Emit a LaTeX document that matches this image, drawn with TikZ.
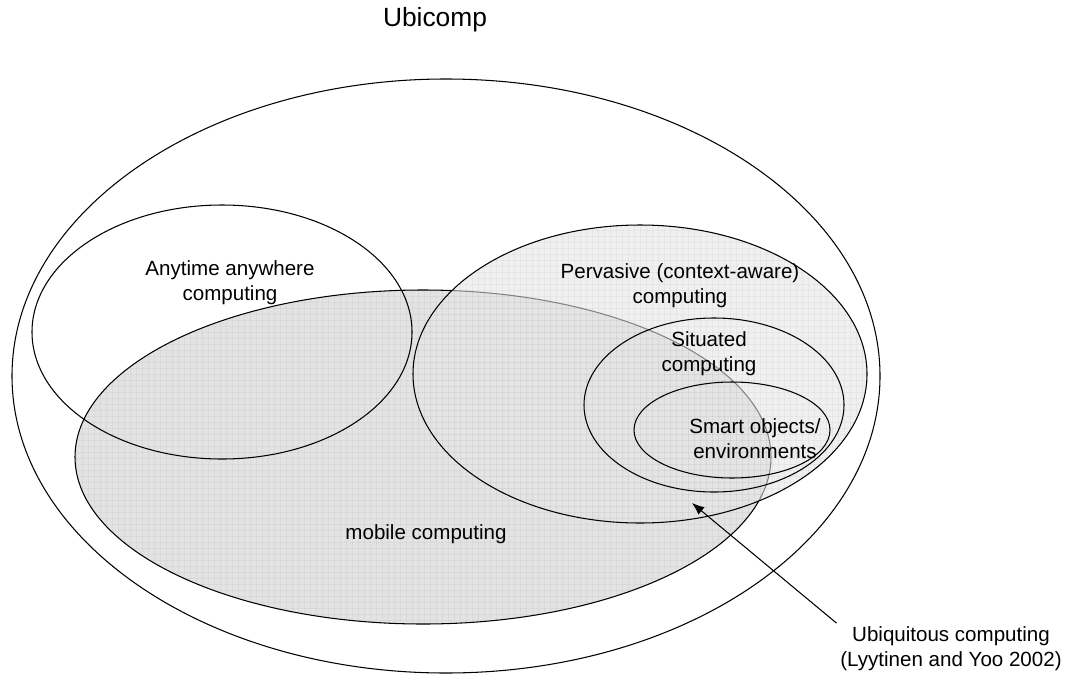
\documentclass[tikz,border=0pt]{standalone}
\usepackage{fontspec}
\setmainfont{Liberation Sans}
\usepackage{tikz}
\usetikzlibrary{arrows.meta}
\definecolor{mobfill}{gray}{0.89}
\definecolor{pervfill}{gray}{0.9}
\tikzset{
  ring/.style={draw=black, line width=0.6pt},
  gridline/.style={black, opacity=0.035, line width=0.4pt},
  txt/.style={font=\fontsize{11.7}{14.2}\selectfont, align=center, inner sep=2pt},
  bigtxt/.style={font=\fontsize{15}{18}\selectfont, inner sep=2pt},
}

\begin{document}
\begin{tikzpicture}[x=0.02cm, y=-0.02cm]
  \useasboundingbox (0,0) rectangle (1068,673);
  % title
  \node[bigtxt] (title) at (435,20) {Ubicomp};
  % outer ellipse
  \draw[ring] (446,376) ellipse [x radius=434, y radius=297];
  % mobile computing
  \fill[mobfill] (423,457) ellipse [x radius=348, y radius=167];
  \begin{scope}
    \clip (423,457) ellipse [x radius=348, y radius=167];
    \foreach \gx in {76,82,...,772}
      {
        \draw[gridline] (\gx,288) -- (\gx,626);
      }
    \foreach \gy in {290,296,...,626}
      {
        \draw[gridline] (74,\gy) -- (772,\gy);
      }
  \end{scope}
  \draw[ring] (423,457) ellipse [x radius=348, y radius=167];
  % anytime anywhere
  \draw[ring] (222,332) ellipse [x radius=190, y radius=127];
  % pervasive
  \fill[pervfill, fill opacity=0.58] (640,374) ellipse [x radius=227, y radius=149];
  \begin{scope}
    \clip (640,374) ellipse [x radius=227, y radius=149];
    \foreach \gx in {412,418,...,868}
      {
        \draw[gridline] (\gx,224) -- (\gx,524);
      }
    \foreach \gy in {224,230,...,524}
      {
        \draw[gridline] (412,\gy) -- (868,\gy);
      }
  \end{scope}
  \draw[ring] (640,374) ellipse [x radius=227, y radius=149];
  % situated and smart objects
  \draw[ring] (714,405) ellipse [x radius=130, y radius=87];
  \draw[ring] (732,430) ellipse [x radius=98, y radius=48];
  % labels
  \node[txt] (anytime) at (230,283) {Anytime anywhere\\computing};
  \node[txt] (perv) at (680,286) {Pervasive (context-aware)\\computing};
  \node[txt] (situ) at (709,354) {Situated\\computing};
  \node[txt] (smart) at (755,439) {Smart objects/\\environments};
  \node[txt] (mobile) at (426,534) {mobile computing};
  \node[txt] (ubiq) at (951,649) {Ubiquitous computing\\(Lyytinen and Yoo 2002)};
  % pointer
  \coordinate (tip) at (692,503);
  \draw[-{Latex[length=7pt,width=5.5pt]}, line width=0.6pt] (ubiq.north west) -- (tip);
\end{tikzpicture}
\end{document}
